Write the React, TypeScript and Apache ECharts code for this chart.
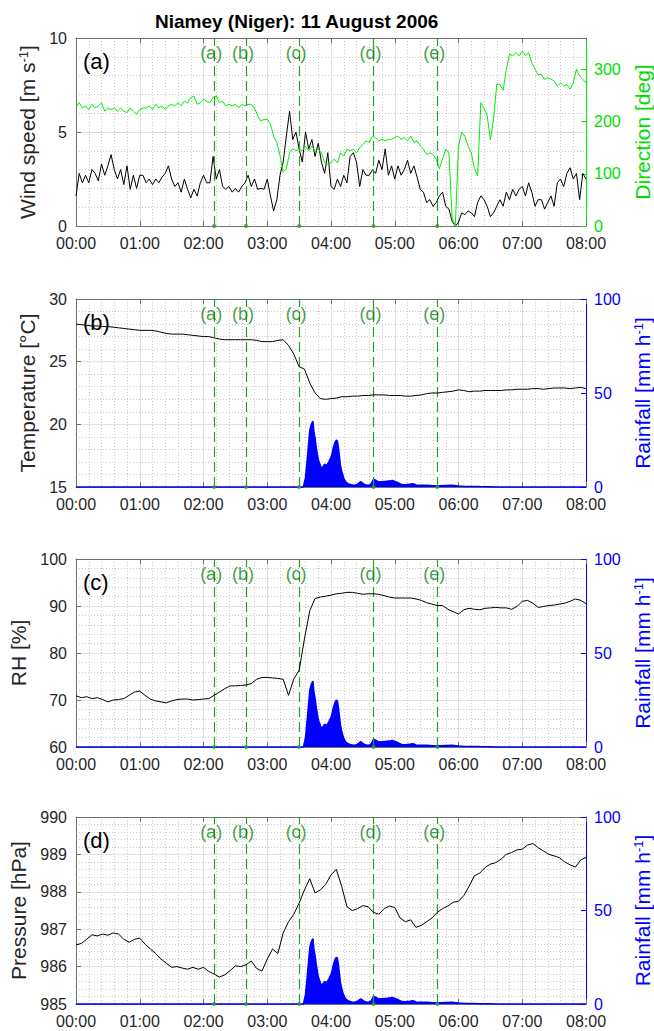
import { useEffect, useRef } from "react";
import * as echarts from "echarts";

// 11 August 2006, Niamey — time axis in minutes after 00:00
const EVENT_MIN = [130, 160, 210, 280, 340];
const EVENT_TAGS = ["(a)", "(b)", "(c)", "(d)", "(e)"];
const PANEL_TAGS = ["(a)", "(b)", "(c)", "(d)"];

// wind speed [m/s] and direction [deg], every 3 min from 00:00 to 08:00
const WIND_SPEED = [
  1.6, 2.8, 2.3, 2.7, 2.3, 3.0, 2.8, 2.4, 3.3, 2.7,
  3.2, 3.8, 3.0, 2.5, 3.0, 2.2, 3.2, 1.95, 2.7, 2.0,
  2.7, 2.7, 2.3, 2.5, 2.2, 2.5, 2.3, 2.6, 2.8, 3.2,
  2.5, 2.1, 2.3, 1.8, 2.5, 1.95, 1.5, 1.95, 1.6, 2.3,
  2.7, 2.3, 2.3, 3.7, 2.5, 3.0, 2.1, 1.95, 2.1, 1.8,
  2.0, 1.8, 2.1, 2.3, 2.7, 2.1, 2.5, 1.95, 2.0, 1.95,
  2.5, 1.6, 0.8, 1.4, 2.7, 3.4, 4.8, 6.1, 4.6, 5.0,
  4.1, 3.4, 5.0, 4.1, 4.6, 3.7, 4.4, 3.4, 2.8, 3.9,
  2.1,
  1.95, 2.5, 2.1, 2.7, 2.3, 3.7, 3.9, 3.4, 2.1, 3.0,
  2.7, 2.7, 3.0, 2.8, 3.5, 3.0, 4.1, 2.7, 3.2, 2.5,
  3.2, 2.7, 3.0, 3.5, 2.8, 3.2, 2.6, 1.95, 1.8, 1.25,
  1.4, 1.05, 1.25, 1.6, 1.8, 1.05, 0.9, 0.25, 0.0, 0.2,
  0.7, 0.6, 0.8, 0.7, 0.5, 1.25, 1.6, 1.4, 1.05, 0.5,
  0.7, 1.05, 1.4, 1.05, 1.8, 1.4, 1.95, 1.6, 1.95, 2.1,
  1.6, 2.3, 1.8, 1.05, 1.4, 1.4, 0.9, 1.25, 1.6, 1.05,
  2.3, 2.5, 2.1, 2.8, 3.1, 2.5, 2.8, 1.4, 2.8, 2.5,
];
const WIND_DIR = [
  227, 236, 226, 230, 223, 233, 226, 230, 236, 220,
  226, 223, 226, 220, 226, 220, 217, 226, 220, 214,
  223, 226, 226, 230, 223, 233, 226, 230, 223, 230,
  233, 230, 236, 230, 239, 236, 246, 249, 233, 236,
  243, 239, 236, 246, 249, 236, 239, 230, 233, 230,
  233, 226, 233, 230, 233, 233, 226, 211, 201, 204,
  204, 195, 172, 160, 135, 103, 110, 140, 148, 144,
  147, 144, 153, 144, 153, 144, 147, 140, 121, 118,
  121,
  128, 121, 140, 134, 147, 144, 147, 140, 150, 156,
  163, 160, 172, 169, 163, 166, 163, 166, 166, 169,
  172, 166, 169, 163, 172, 160, 163, 153, 147, 137,
  140, 137, 128, 110, 128, 147, 140, 15, 0, 153,
  180, 172, 153, 140, 110, 96, 236, 226, 211, 165,
  204, 271, 271, 260, 300, 329, 326, 332, 326, 335,
  326, 332, 313, 300, 290, 290, 281, 284, 281, 278,
  268, 274, 268, 271, 262, 274, 300, 287, 281, 274,
];

// temperature [°C], RH [%], pressure [hPa], every 5 min
const TEMP = [
  28.0, 27.95, 27.9, 27.85, 27.85, 27.8, 27.8, 27.75, 27.7, 27.65,
  27.6, 27.55, 27.5, 27.5, 27.5, 27.45, 27.35, 27.25, 27.2, 27.2,
  27.2, 27.15, 27.1, 27.05, 27.0, 27.0, 26.9, 26.8, 26.75, 26.75,
  26.75, 26.75, 26.75, 26.75, 26.7, 26.6, 26.6, 26.6, 26.7, 26.75,
  26.3, 25.6, 24.6, 24.4, 23.3, 22.5, 22.05, 22.0, 22.05, 22.1,
  22.2, 22.2, 22.25, 22.25, 22.3, 22.3, 22.35, 22.35, 22.35, 22.3,
  22.3, 22.3, 22.25, 22.25, 22.3, 22.35, 22.45, 22.5, 22.5, 22.55,
  22.6, 22.65, 22.75, 22.7, 22.6, 22.65, 22.65, 22.7, 22.7, 22.7,
  22.7, 22.75, 22.75, 22.8, 22.8, 22.8, 22.85, 22.85, 22.8, 22.85,
  22.9, 22.9, 22.9, 22.85, 22.9, 22.95, 22.85,
];
const RH = [
  70.9, 70.5, 70.7, 70.3, 70.5, 70.1, 69.6, 70.0, 70.1, 70.3,
  71.0, 71.7, 71.9, 71.0, 70.2, 69.8, 69.6, 69.4, 69.8, 70.1,
  70.2, 70.2, 70.0, 70.1, 70.2, 70.3, 71.0, 71.7, 72.4, 73.0,
  73.0, 73.1, 73.2, 73.5, 74.4, 74.8, 74.8, 74.7, 74.6, 74.4,
  71.0, 74.5, 76.3, 83.0, 89.0, 91.6, 91.9, 92.1, 92.3, 92.6,
  92.7, 92.9, 92.9, 92.7, 92.5, 92.6, 92.6, 92.5, 92.2, 91.9,
  91.7, 91.7, 91.7, 91.7, 91.5, 91.2, 90.7, 90.4, 90.1, 90.1,
  89.3, 88.8, 88.3, 89.2, 89.5, 89.3, 89.2, 89.5, 89.6, 89.7,
  89.6, 89.6, 89.3, 89.9, 91.0, 91.2, 90.6, 89.7, 89.9, 90.1,
  90.2, 90.4, 90.6, 91.0, 91.5, 91.2, 90.5,
];
const PRESSURE = [
  986.58, 986.62, 986.73, 986.85, 986.82, 986.87, 986.84, 986.9, 986.87, 986.73,
  986.65, 986.73, 986.76, 986.6, 986.47, 986.35, 986.2, 986.09, 985.98, 986.0,
  985.96, 985.93, 985.98, 985.93, 985.98, 985.87, 985.8, 985.72, 985.78, 985.89,
  986.02, 986.0, 986.05, 986.15, 985.95, 985.88, 986.2, 986.47, 986.35, 986.9,
  987.2, 987.4, 987.7, 988.05, 988.35, 987.97, 988.05, 988.2, 988.45, 988.6,
  988.15, 987.6, 987.5, 987.55, 987.63, 987.6, 987.45, 987.4, 987.55, 987.62,
  987.58, 987.3, 987.2, 987.25, 987.05, 987.1, 987.2, 987.3, 987.45, 987.55,
  987.62, 987.72, 987.75, 987.9, 988.15, 988.43, 988.5, 988.65, 988.74, 988.78,
  988.87, 989.0, 989.05, 989.12, 989.14, 989.25, 989.29, 989.18, 989.09, 989.0,
  988.96, 988.91, 988.8, 988.72, 988.66, 988.85, 988.92,
];

// rainfall rate [mm/h]
const RAIN_MIN = [
  0, 214, 216,
  217, 218, 219, 220, 221, 222, 223, 224, 225, 226, 227, 228, 229, 230, 231, 232, 233, 234,
  235, 236, 237, 238, 239, 240, 241, 242, 243, 244, 245, 246, 247, 248, 249, 250, 251, 252,
  254, 256, 258, 260, 262, 264, 266, 268, 270, 272, 274, 276, 278, 280, 282, 284, 286, 288,
  290, 292, 294, 296, 298, 300, 302, 304, 306, 308, 310, 312, 314, 316, 318, 320, 322,
  326, 330, 336, 342, 348, 354, 360, 366, 372, 380, 390, 396, 480,
];
const RAIN_RATE = [
  0, 0, 5,
  11, 17, 23.6, 30, 32.5, 34, 35, 29, 26, 21.5, 18, 14.7, 13, 11.5, 9.8, 10.5, 11.2, 12.1,
  11.8, 11.5, 12.5, 13.5, 14.7, 15.8, 17.5, 20.5, 22.5, 24, 25, 24.5, 21, 16, 11.2, 8.5, 6.5, 4.6,
  2.6, 1.8, 1.4, 1.0, 0.9, 1.2, 2.0, 2.8, 2.0, 1.2, 0.9, 1.0, 1.8, 4.1, 3.6, 3.0, 2.7, 2.8,
  2.9, 3.0, 3.2, 3.3, 3.5, 3.0, 2.6, 2.0, 1.5, 1.2, 1.2, 1.3, 1.4, 1.7, 1.6, 1.1, 0.9,
  0.9, 0.9, 0.7, 0.7, 0.8, 0.9, 0.5, 0.3, 0.3, 0.2, 0.1, 0, 0,
];

const FONT = '"Liberation Sans", Arial, Helvetica, sans-serif';
const INK = "#262626";
const AXIS = "#707070";
const GRID_MAJOR = "#e2e2e2";
const GRID_MINOR = "#cacaca";
const DIR_LINE = "#00ee00";
const DIR_TXT = "#00dd00";
const BLUE = "#0000ff";
const EVENT_LINE = "#2a9a2a";
const EVENT_TXT = "#118811";

const GRID_LEFT = 76;
const GRID_W = 510;
const GRID_TOPS = [38, 299, 559, 817];
const GRID_HS = [188, 188, 188, 187];

const LEFT = [
  { min: 0, max: 10, step: 5, name: "Wind speed [m s{sup|-1}]", gap: 36 },
  { min: 15, max: 30, step: 5, name: "Temperature [°C]", gap: 36 },
  { min: 60, max: 100, step: 10, name: "RH [%]", gap: 45 },
  { min: 985, max: 990, step: 1, name: "Pressure [hPa]", gap: 45 },
];
const RIGHT = [
  { min: 0, max: 360, step: 100, name: "Direction [deg]", color: DIR_TXT, line: DIR_LINE },
  { min: 0, max: 100, step: 50, name: "Rainfall [mm h{sup|-1}]", color: BLUE, line: BLUE },
  { min: 0, max: 100, step: 50, name: "Rainfall [mm h{sup|-1}]", color: BLUE, line: BLUE },
  { min: 0, max: 100, step: 50, name: "Rainfall [mm h{sup|-1}]", color: BLUE, line: BLUE },
];

const every = (step: number) => (v: number, i: number) => [i * step, v];
const hhmm = (v: number) =>
  `${String(Math.floor(v / 60)).padStart(2, "0")}:${String(v % 60).padStart(2, "0")}`;

function nameStyle(color: string) {
  return {
    fontSize: 21,
    color,
    fontFamily: FONT,
    rich: { sup: { fontSize: 13, color, fontFamily: FONT, verticalAlign: "top" } },
  };
}

function lineSeries(i: number, yAxisIndex: number, data: number[][], color: string, z = 3) {
  return {
    type: "line",
    xAxisIndex: i,
    yAxisIndex,
    data,
    showSymbol: false,
    silent: true,
    z,
    lineStyle: { color, width: 1 },
  };
}

function eventSeries(i: number) {
  const s = LEFT[i];
  const labelY = s.max - 0.082 * (s.max - s.min);
  return [
    {
      type: "scatter",
      xAxisIndex: i,
      yAxisIndex: i,
      silent: true,
      z: 6,
      symbol: "circle",
      symbolSize: 1,
      itemStyle: { color: "rgba(0,0,0,0)" },
      data: EVENT_MIN.map((t) => [t, labelY]),
      label: {
        show: true,
        position: "inside",
        offset: [-3, 0],
        formatter: (p: { dataIndex: number }) => EVENT_TAGS[p.dataIndex],
        color: EVENT_TXT,
        fontSize: 18,
        fontFamily: FONT,
      },
      markLine: {
        silent: true,
        symbol: ["none", "none"],
        label: { show: false },
        lineStyle: { color: EVENT_LINE, type: [10, 5], width: 1.2 },
        data: EVENT_MIN.map((t) => ({ xAxis: t })),
      },
    },
    {
      type: "scatter",
      xAxisIndex: i,
      yAxisIndex: i,
      silent: true,
      z: 6,
      symbolSize: 4,
      itemStyle: { color: EVENT_LINE },
      data: EVENT_MIN.map((t) => [t, s.min]),
    },
  ];
}

function rainSeries(i: number) {
  return {
    type: "line",
    xAxisIndex: i,
    yAxisIndex: 4 + i,
    data: RAIN_MIN.map((t, k) => [t, RAIN_RATE[k]]),
    showSymbol: false,
    silent: true,
    clip: false,
    z: 4,
    lineStyle: { color: BLUE, width: 1.5 },
    areaStyle: { color: BLUE, opacity: 1 },
  };
}

function buildOption() {
  const grid = GRID_TOPS.map((top, i) => ({
    left: GRID_LEFT,
    top,
    width: GRID_W,
    height: GRID_HS[i],
    containLabel: false,
    outerBoundsMode: "none",
  }));

  const xBottom = GRID_TOPS.map((_, i) => ({
    type: "value",
    gridIndex: i,
    position: "bottom",
    min: 0,
    max: 480,
    interval: 60,
    axisLabel: { formatter: hhmm, fontSize: 16, color: INK, fontFamily: FONT, margin: 9 },
    axisLine: { show: true, onZero: false, lineStyle: { color: AXIS, width: 1 } },
    axisTick: { show: true, inside: true, length: 5, lineStyle: { color: AXIS } },
    splitLine: { show: true, lineStyle: { color: GRID_MAJOR, width: 1 } },
    minorTick: { show: false, splitNumber: 5 },
    minorSplitLine: { show: true, lineStyle: { color: GRID_MINOR, width: 1, type: [1, 2] } },
  }));
  const xTop = GRID_TOPS.map((_, i) => ({
    type: "value",
    gridIndex: i,
    position: "top",
    min: 0,
    max: 480,
    interval: 60,
    axisLabel: { show: false },
    axisLine: { show: true, onZero: false, lineStyle: { color: AXIS, width: 1 } },
    axisTick: { show: true, inside: true, length: 5, lineStyle: { color: AXIS } },
    splitLine: { show: false },
  }));

  const yLeft = LEFT.map((s, i) => ({
    type: "value",
    gridIndex: i,
    position: "left",
    min: s.min,
    max: s.max,
    interval: s.step,
    name: s.name,
    nameLocation: "middle",
    nameRotate: 90,
    nameGap: s.gap,
    nameTextStyle: nameStyle(INK),
    axisLabel: { fontSize: 16, color: INK, fontFamily: FONT, margin: 9 },
    axisLine: { show: true, onZero: false, lineStyle: { color: AXIS, width: 1 } },
    axisTick: { show: true, inside: true, length: 5, lineStyle: { color: AXIS } },
    splitLine: { show: true, lineStyle: { color: GRID_MAJOR, width: 1 } },
    minorTick: { show: false, splitNumber: 5 },
    minorSplitLine: { show: true, lineStyle: { color: GRID_MINOR, width: 1, type: [1, 2] } },
  }));
  const yRight = RIGHT.map((s, i) => ({
    type: "value",
    gridIndex: i,
    position: "right",
    min: s.min,
    max: s.max,
    interval: s.step,
    name: s.name,
    nameLocation: "middle",
    nameRotate: 90,
    nameGap: 44,
    nameTextStyle: nameStyle(s.color),
    axisLabel: { fontSize: 16, color: s.color, fontFamily: FONT, margin: 8, showMaxLabel: s.max % s.step === 0 },
    axisLine: { show: true, onZero: false, lineStyle: { color: s.line, width: 1 } },
    axisTick: { show: true, inside: true, length: 5, lineStyle: { color: s.line } },
    splitLine: { show: false },
  }));

  const series = [
    lineSeries(0, 0, WIND_SPEED.map(every(3)), "#000000", 3),
    lineSeries(0, 4, WIND_DIR.map(every(3)), DIR_LINE, 4),
    ...eventSeries(0),
    rainSeries(1),
    lineSeries(1, 1, TEMP.map(every(5)), "#000000", 5),
    ...eventSeries(1),
    rainSeries(2),
    lineSeries(2, 2, RH.map(every(5)), "#000000", 5),
    ...eventSeries(2),
    rainSeries(3),
    lineSeries(3, 3, PRESSURE.map(every(5)), "#000000", 5),
    ...eventSeries(3),
  ];

  const graphic = GRID_TOPS.map((top, i) => ({
    type: "text",
    x: 83,
    y: top + 23,
    z: 100,
    silent: true,
    style: {
      text: PANEL_TAGS[i],
      fontSize: 22,
      fontFamily: FONT,
      fill: "#000000",
      align: "left",
      verticalAlign: "middle",
    },
  }));

  return {
    animation: false,
    backgroundColor: "#ffffff",
    title: {
      text: "Niamey (Niger): 11 August 2006",
      left: 155,
      top: 12,
      padding: 0,
      textStyle: { fontSize: 19, fontWeight: "bold", color: "#000000", fontFamily: FONT },
    },
    grid,
    xAxis: [...xBottom, ...xTop],
    yAxis: [...yLeft, ...yRight],
    series,
    graphic,
  };
}

export default function App() {
  const ref = useRef<HTMLDivElement>(null);
  useEffect(() => {
    if (!ref.current) return;
    const chart = echarts.init(ref.current, undefined, { renderer: "svg" });
    chart.setOption(buildOption());
    return () => chart.dispose();
  }, []);
  return (
    <div
      ref={ref}
      style={{ position: "absolute", left: 0, top: 0, width: 654, height: 1031, background: "#fff" }}
    />
  );
}
